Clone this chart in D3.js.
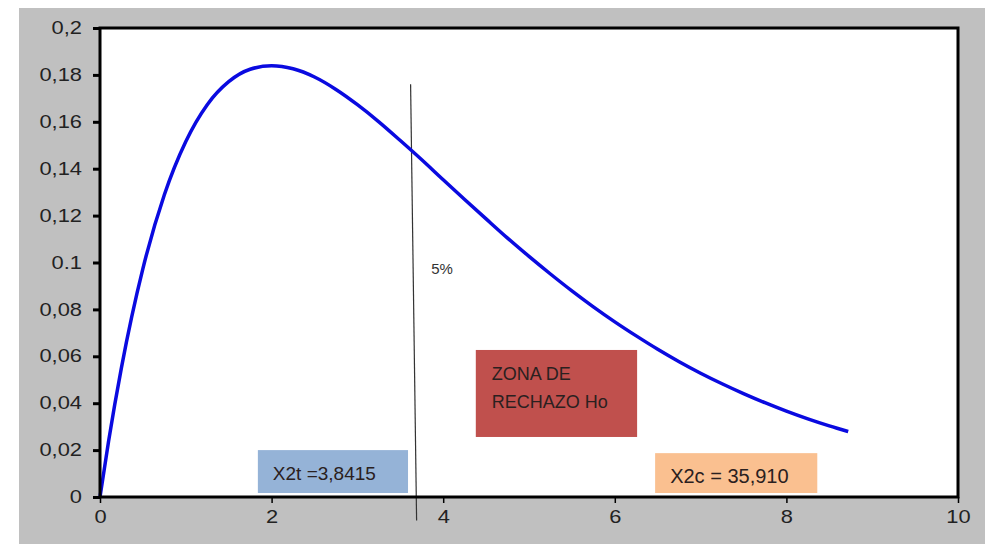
<!DOCTYPE html>
<html>
<head>
<meta charset="utf-8">
<script src="https://cdn.jsdelivr.net/npm/d3@7"></script>
<style>
  body { margin: 0; background: #fff; }
  svg { display: block; font-family: "Liberation Sans", Arial, sans-serif; }
</style>
</head>
<body>
<svg id="chart" width="985" height="544"></svg>
<script>
"use strict";

// curve (x, density)
var xs = [0, 0.1, 0.25, 0.5, 0.75, 1, 1.25, 1.5, 1.75, 2, 2.25, 2.5, 2.75, 3, 3.25, 3.5,
  3.75, 4, 4.25, 4.5, 4.75, 5, 5.25, 5.5, 5.75, 6, 6.25, 6.5, 6.75, 7, 7.25, 7.5,
  7.75, 8, 8.25, 8.5, 8.72];
var ys = [0, 0.0238, 0.0552, 0.0974, 0.1289, 0.1516, 0.1673, 0.1771, 0.1824, 0.1839,
  0.1826, 0.1791, 0.1738, 0.1673, 0.1600, 0.1520, 0.1438, 0.1353, 0.1269, 0.1186,
  0.1104, 0.1026, 0.0951, 0.0879, 0.0811, 0.0747, 0.0687, 0.0630, 0.0577, 0.0528,
  0.0483, 0.0441, 0.0402, 0.0366, 0.0333, 0.0303, 0.0279];

var xTicks = [0, 2, 4, 6, 8, 10];
var yTicks = [0, 0.02, 0.04, 0.06, 0.08, 0.1, 0.12, 0.14, 0.16, 0.18, 0.2];
var yTickLabels = ["0", "0,02", "0,04", "0,06", "0,08", "0.1", "0,12", "0,14", "0,16", "0,18", "0,2"];

// critical value line and annotation boxes
var critX = [3.62, 3.69];
var critY = [0.176, -0.01];
var boxes = [
  { x0: 1.84, x1: 3.59, y0: 0.0200, y1: 0.0017, fill: "#95b3d7", lines: ["X2t =3,8415"], size: 19 },
  { x0: 4.38, x1: 6.26, y0: 0.0627, y1: 0.0256, fill: "#c0504d", lines: ["ZONA DE", "RECHAZO Ho"], size: 18 },
  { x0: 6.47, x1: 8.36, y0: 0.0187, y1: 0.0017, fill: "#fac090", lines: ["X2c = 35,910"], size: 20 }
];
var pctLabel = { x: 3.86, y: 0.095, text: "5%" };

var svg = d3.select("#chart");
var W = 985, H = 544;
var m = { left: 100, right: 27, top: 28, bottom: 47 };
var stretch = 1.25; // tick labels in the picture are wide

var x = d3.scaleLinear().domain([0, 10]).range([m.left, W - m.right]);
var y = d3.scaleLinear().domain([0, 0.2]).range([H - m.bottom, m.top]);

// background
svg.append("rect").attr("x", 19).attr("y", 8).attr("width", W - 19).attr("height", H - 8)
  .attr("fill", "#c0c0c0");
svg.append("rect").attr("x", m.left).attr("y", m.top)
  .attr("width", x(10) - x(0)).attr("height", y(0) - y(0.2))
  .attr("fill", "#fff");

// boxes
var bg = svg.selectAll("g.box").data(boxes).enter().append("g").attr("class", "box");
bg.append("rect")
  .attr("x", function(d) { return x(d.x0) })
  .attr("y", function(d) { return y(d.y0) })
  .attr("width", function(d) { return x(d.x1) - x(d.x0) })
  .attr("height", function(d) { return y(d.y1) - y(d.y0) })
  .attr("fill", function(d) { return d.fill });
bg.each(function(d) {
  var g = d3.select(this);
  d.lines.forEach(function(t, i) {
    g.append("text")
      .attr("x", x(d.x0) + (d.lines.length > 1 ? 16 : 15))
      .attr("y", y(d.y0) + (d.lines.length > 1 ? 30 + i * 28 : 30))
      .style("font-size", d.size + "px")
      .attr("fill", "#2a2020")
      .text(t);
  });
});

// critical value line
svg.append("line")
  .attr("x1", x(critX[0])).attr("y1", y(critY[0]))
  .attr("x2", x(critX[1])).attr("y2", y(critY[1]))
  .style("stroke", "#333").style("stroke-width", 1.2);

svg.append("text").attr("x", x(pctLabel.x)).attr("y", y(pctLabel.y))
  .style("font-size", "15px").attr("fill", "#333").text(pctLabel.text);

// curve
var pts = xs.map(function(v, i) { return [v, ys[i]] });
svg.append("path").datum(pts)
  .attr("d", d3.line()
    .x(function(d) { return x(d[0]) })
    .y(function(d) { return y(d[1]) })
    .curve(d3.curveMonotoneX))
  .attr("fill", "none")
  .style("stroke", "#0a0ae0")
  .style("stroke-width", 3.5);

// frame
svg.append("rect").attr("x", m.left).attr("y", m.top)
  .attr("width", x(10) - x(0)).attr("height", y(0) - y(0.2))
  .attr("fill", "none").style("stroke", "#000").style("stroke-width", 3);

// axes
var xAxis = d3.axisBottom(x).tickValues(xTicks).tickSize(6).tickFormat(d3.format("d"));
var yAxis = d3.axisLeft(y).tickValues(yTicks).tickSize(7)
  .tickFormat(function(d, i) { return yTickLabels[i] });

var gx = svg.append("g").attr("transform", "translate(0," + y(0) + ")").call(xAxis);
gx.select(".domain").remove();
gx.selectAll(".tick line").style("stroke", "#000").style("stroke-width", 1.5);
gx.selectAll(".tick text").style("font-size", "17.5px").attr("fill", "#222").attr("dy", "0.95em")
  .attr("transform", "scale(" + stretch + ",1)")
  .style("font-family", "Liberation Sans, Arial, sans-serif");

var gy = svg.append("g").attr("transform", "translate(" + x(0) + ",0)").call(yAxis);
gy.select(".domain").remove();
gy.selectAll(".tick line").style("stroke", "#000").style("stroke-width", 3);
gy.selectAll(".tick text").style("font-size", "17.5px").attr("fill", "#222")
  .attr("x", -18 / stretch)
  .attr("transform", "scale(" + stretch + ",1)")
  .style("font-family", "Liberation Sans, Arial, sans-serif");
</script>
</body>
</html>
